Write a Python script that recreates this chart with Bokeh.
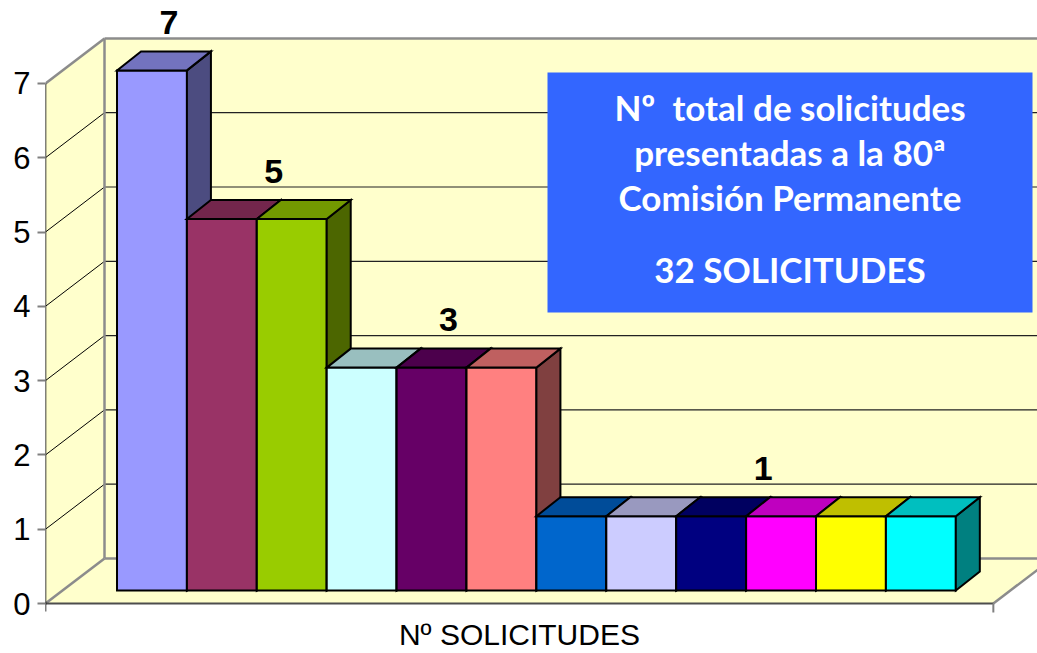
from bokeh.plotting import figure
from bokeh.models import Range1d, FixedTicker
from bokeh.core.properties import value
from bokeh.embed import file_html
from bokeh.resources import INLINE

# ---------------- data ----------------
values = [7, 5, 5, 3, 3, 3, 1, 1, 1, 1, 1, 1]
colors = ["#9999FF", "#993366", "#99CC00", "#CCFFFF", "#660066", "#FF8080",
          "#0066CC", "#CCCCFF", "#000080", "#FF00FF", "#FFFF00", "#00FFFF"]
y_ticks = [0, 1, 2, 3, 4, 5, 6, 7]
x_title = "Nº SOLICITUDES"
box_lines = ["Nº\u00a0 total de solicitudes", "presentadas a la 80ª",
             "Comisión Permanente", "32 SOLICITUDES"]

# ---------------- layout (pixels) ----------------
W, H = 1037, 653
LEFT = 45            # left border for the value axis
PXU_X = 69.9         # px per bar
PXU_Y = 74.3         # px per value unit
MARGIN = 0.78        # floor margin either side of the bars (bar units)
ORIGIN_Y = 603       # canvas px of value 0 on the front plane
ORIGIN_X = LEFT + MARGIN * PXU_X
TXT = 12             # baseline correction for text glyphs (px)


def sx(px):
    return (px - ORIGIN_X) / PXU_X


def sy(py):
    return (ORIGIN_Y - py) / PXU_Y


def dx(px):
    return px / PXU_X


def dy(px):
    return px / PXU_Y


n = len(values)
vmax = max(y_ticks)
X0, X1 = -MARGIN, n + MARGIN
DX, DY = dx(59), dy(45)          # wall depth
FX, FY = dx(17), dy(13)          # bar front offset
BX, BY = dx(24), dy(19)          # bar depth

p = figure(width=W, height=H, x_range=Range1d(sx(LEFT), sx(W)),
           y_range=Range1d(sy(H), sy(0)), output_backend="svg",
           toolbar_location=None, x_axis_location=None,
           min_border_left=LEFT, min_border_right=0, min_border_top=0,
           min_border_bottom=0, outline_line_color=None,
           background_fill_color="white", border_fill_color="white")
p.grid.visible = False

ax = p.yaxis[0]
ax.ticker = FixedTicker(ticks=y_ticks)
ax.axis_line_color = None
ax.major_tick_out = 8
ax.major_tick_in = 0
ax.major_tick_line_color = "#808080"
ax.major_tick_line_width = 2
ax.minor_tick_line_color = None
ax.major_label_standoff = 7
ax.major_label_text_font = "Liberation Sans"
ax.major_label_text_font_size = "31px"
ax.major_label_text_color = "black"

WALL = "#FFFFCC"
RIGHT = X1 + DX + 2
# walls & floor
p.patches(xs=[[X0 + DX, RIGHT, RIGHT, X0 + DX],
              [X0, X0 + DX, X0 + DX, X0],
              [X0, X1, X1 + DX, X0 + DX]],
          ys=[[DY, DY, vmax + DY, vmax + DY],
              [0, DY, vmax + DY, vmax],
              [0, 0, DY, DY]],
          fill_color=WALL, line_color=None)

# gridlines
gl = [v for v in y_ticks if 0 < v < vmax]
p.segment(x0=[X0] * len(gl), y0=gl, x1=[X0 + DX] * len(gl),
          y1=[v + DY for v in gl], line_color="black", line_width=1)
p.segment(x0=[X0 + DX] * len(gl), y0=[v + DY for v in gl],
          x1=[RIGHT] * len(gl), y1=[v + DY for v in gl],
          line_color="#222222", line_width=1.2)

# wall edges (gray)
p.segment(x0=[X0, X0 + DX, X0 + DX, X0, X0 + DX, X1],
          y0=[vmax, vmax + DY, DY, 0, DY, 0],
          x1=[X0 + DX, RIGHT, X0 + DX, X0 + DX, RIGHT, X1 + DX],
          y1=[vmax + DY, vmax + DY, vmax + DY, DY, DY, DY],
          line_color="#8C8C8C", line_width=2.5)
# front floor edge, value axis line, category end ticks
p.segment(x0=[X0], y0=[0], x1=[X1], y1=[0], line_color="#4D4D4D", line_width=2)
p.segment(x0=[X0], y0=[-dy(8)], x1=[X0], y1=[vmax], line_color="black", line_width=1.5)
p.segment(x0=[X1], y0=[0], x1=[X1], y1=[-dy(9)], line_color="#808080", line_width=2)


def shade(hexc, f):
    r, g, b = (int(hexc[i:i + 2], 16) for i in (1, 3, 5))
    return "#%02X%02X%02X" % (round(r * f), round(g * f), round(b * f))


xs, ys, fc = [], [], []
for i, (v, c) in enumerate(zip(values, colors)):
    a0, a1, b0, b1 = i + FX, i + 1 + FX, FY, v + FY
    xs += [[a0, a1, a1, a0],
           [a1, a1 + BX, a1 + BX, a1],
           [a0, a1, a1 + BX, a0 + BX]]
    ys += [[b0, b0, b1, b1],
           [b0, b0 + BY, b1 + BY, b1],
           [b1, b1, b1 + BY, b1 + BY]]
    fc += [c, shade(c, 0.5), shade(c, 0.75)]
p.patches(xs=xs, ys=ys, fill_color=fc, line_color="black", line_width=2,
          line_join="miter")

# data labels: one per run of equal values
lx, ly, lt = [], [], []
i = 0
while i < n:
    j = i
    while j + 1 < n and values[j + 1] == values[i]:
        j += 1
    lx.append((i + j + 1) / 2 + FX + dx(17))
    ly.append(values[i] + FY + BY + dy(17 + TXT))
    lt.append(str(values[i]))
    i = j + 1
p.text(x=lx, y=ly, text=lt, text_font=value("Liberation Sans"),
       text_font_style="bold", text_font_size="34px", text_align="center",
       text_baseline="alphabetic", text_color="black")

# category title
p.text(x=[n / 2], y=[sy(646 - TXT)], text=[x_title], text_font=value("Liberation Sans"),
       text_font_size="30px", text_align="center", text_baseline="alphabetic",
       text_color="black")

# info box
p.quad(left=[sx(547)], right=[sx(1032)], top=[sy(72)], bottom=[sy(312)],
       fill_color="#3366FF", line_color=None)
base = [118, 163, 208, 280]
p.text(x=[(sx(547) + sx(1032)) / 2] * len(box_lines),
       y=[sy(b - TXT) for b in base],
       text=box_lines, text_font=value("Lato"), text_font_style="bold",
       text_font_size="35px", text_align="center", text_baseline="alphabetic",
       text_color="white")

open("out.html", "w").write(file_html(p, INLINE))
